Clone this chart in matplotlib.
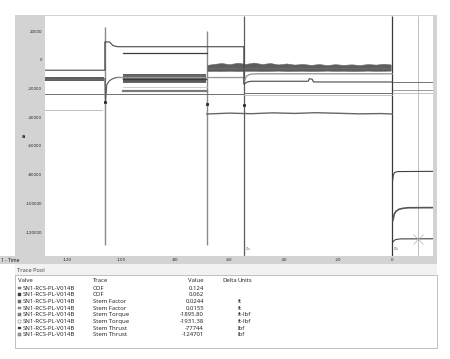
import matplotlib
matplotlib.use('Agg')
import matplotlib.pyplot as plt
from matplotlib.patches import Rectangle

W, H = 450, 359

# ---- chart data (time in s, values in lbf / ft-lbf) ----
cursor_t = [-106.0, -68.4, -54.7, 0.0, 9.6]
cursor_top = [22600, 19800, 30450, 30450, 30450]
cursor_bot = [-129200, -129200, -136700, -136700, -136700]

# upper dark trace
tr_a_t = [-128.1, -106.0, -106.0, -104.3, -103.0, -101.2, -54.7, -54.7, -53.5, -52.0, -31.0, -30.5, -29.5, -29.0, 0.0]
tr_a_v = [-7300, -7300, 12400, 12400, 9800, 9050, 9050, -17000, -15600, -15000, -15000, -13200, -13600, -15500, -15500]

# upper-middle step trace
tr_b_t = [-99.3, -68.4]
tr_b_v = [5000, 5000]

# noisy trace: band limits for the first two segments
noisy_t = [[-128.1, -106.2], [-99.3, -68.6]]
noisy_lo = [[-14600, -14600], [-16300, -16300]]
noisy_hi = [[-11700, -11700], [-9800, -9800]]
# last segment: jagged top edge and lower edge
band3_t = [-68.2, -66, -63, -60, -57, -54, -51, -48, -45, -42, -39, -36, -33, -30, -27, -24, -21, -18, -15, -12, -9, -6, -3, -0.5]
band3_hi = [-3600, -3000, -2300, -3100, -2100, -2900, -2000, -3000, -2300, -3300, -2600, -3400, -2900, -3600, -3000, -3700, -3100, -3600, -3200, -3700, -3000, -3400, -2800, -3300]
band3_lo = [-7900, -7800, -7900, -7700, -7900, -7800, -7700, -7900, -7800, -7600, -7900, -7800, -7700, -7900, -7800, -7600, -7800, -7700, -7900, -7800, -7600, -7800, -7700, -7600]

# recovery after first cursor
rec_t = [-106.0, -105.8, -105.3, -104.5, -103.5, -102.5, -101.2, -99.3]
rec_v = [-13100, -29600, -17500, -15000, -13600, -12800, -12300, -12400]

tr_c_t = [-101.2, -54.7, -54.7, -53.8, -52.5, -50.0, 0.0]
tr_c_v = [-12400, -12400, -16000, -11500, -10200, -9800, -9800]

tr_d_t = [-99.3, -68.4]
tr_d_v = [-18900, -18900]

tr_e_t = [-99.3, -68.4]
tr_e_v = [-21700, -21700]

tr_f_t = [-128.1, -54.7, -54.7, 0.0]
tr_f_v = [-24000, -24000, -23100, -23100]

tr_g_t = [-54.7, 0.0]
tr_g_v = [-24900, -24900]

tr_h_t = [-128.1, -107.0]
tr_h_v = [-35200, -35200]

tr_i_t = [-68.4, -60, -52, -44, -36, -28, -20, -12, -4, 0.0]
tr_i_v = [-37800, -37200, -37600, -37000, -37400, -36900, -37300, -37700, -37500, -37800]

spike_t = [-106.0, -68.4, -54.7]
spike_v = [-29600, -30800, -31700]

# after closing
post_lines_v = [-15500, -21200, -23500]
post_t = [0.3, 15.1]
thr1_t = [0.2, 0.5, 1.0, 2.0, 15.1]
thr1_v = [-84000, -80000, -78500, -77900, -77744]
thr2_t = [0.3, 0.8, 1.5, 2.5, 4.0, 6.0, 15.1]
thr2_v = [-111800, -107500, -105500, -104200, -103500, -103100, -103000]
thr3_t = [0.3, 0.8, 1.5, 3.0, 15.1]
thr3_v = [-127000, -125800, -125200, -124800, -124701]

yticks = [20000, 0, -20000, -40000, -60000, -80000, -100000, -120000]
xticks = [-120, -100, -80, -60, -40, -20, 0]

# ---- trace pool table ----
valves = ['SN1-RCS-PL-V014B'] * 8
traces = ['COF', 'COF', 'Stem Factor', 'Stem Factor', 'Stem Torque', 'Stem Torque', 'Stem Thrust', 'Stem Thrust']
values = ['0.124', '0.062', '0.0244', '0.0155', '-1895.80', '-1931.38', '-77744', '-124701']
units = ['', '', 'ft', 'ft', 'ft-lbf', 'ft-lbf', 'lbf', 'lbf']
swatch = ['#8a8a8a', '#333333', '#777777', '#9a9a9a', '#888888', 'none', '#333333', '#a0a0a0']


def fx(x):
    return x / W


def fy(y):
    return 1 - y / H


def box(x, y, w, h, **kw):
    # rectangle given in pixels from the top-left corner
    r = Rectangle((fx(x), fy(y + h)), fx(w), h / H, transform=fig.transFigure, **kw)
    fig.patches.append(r)


fig = plt.figure(figsize=(W / 100, H / 100), dpi=100)
fig.patch.set_facecolor('white')

# gray frame round the plot and the time bar
box(15, 15, 422, 249, facecolor='#d3d3d3', edgecolor='none', zorder=-3)
box(0, 256, 15, 8, facecolor='#d3d3d3', edgecolor='none', zorder=-3)
# trace pool header band
box(15, 264, 422, 11, facecolor='#f2f2f2', edgecolor='none', zorder=-3)
# table box
box(15, 275, 422, 73, facecolor='white', edgecolor='#b5b5b5', linewidth=0.6, zorder=-2)

ax = fig.add_axes([fx(45), fy(256), fx(388), 240 / H])
ax.set_facecolor('white')
for s in ax.spines.values():
    s.set_visible(False)
ax.set_xlim(-128.1, 15.1)
ax.set_ylim(-136700, 30450)
ax.set_yticks(yticks)
ax.set_yticklabels([str(v) for v in yticks])
ax.set_xticks(xticks)
ax.set_xticklabels([str(v) for v in xticks])
ax.tick_params(length=0, labelsize=2.9, labelcolor='#222222', pad=2)
ax.tick_params(axis='x', pad=1.6)

# cursors
for i, t in enumerate(cursor_t):
    col = ['#8a8a8a', '#8a8a8a', '#5c5c5c', '#3a3a3a', '#b5b5b5'][i]
    lw = [1.0, 1.0, 0.9, 0.9, 0.6][i]
    ax.vlines(t, cursor_bot[i], cursor_top[i], colors=col, linewidth=lw, zorder=2)

# noisy bands
for seg_t, lo, hi in zip(noisy_t, noisy_lo, noisy_hi):
    ax.fill_between(seg_t, lo, hi, color='#5e5e5e', linewidth=0, zorder=3)
ax.fill_between(band3_t, band3_lo, band3_hi, color='#5e5e5e', linewidth=0.4, edgecolor='#6a6a6a', zorder=3)
ax.plot(noisy_t[0], [-13100, -13100], color='#8a8a8a', lw=0.4, ls=(0, (1, 1)), zorder=3)
ax.plot(noisy_t[1], [-13100, -13100], color='#3a3a3a', lw=1.0, zorder=3)
ax.plot(noisy_t[1], [-15200, -15200], color='#8a8a8a', lw=0.4, ls=(0, (1, 1)), zorder=3)
ax.plot(noisy_t[1], [-10800, -10800], color='#8a8a8a', lw=0.4, ls=(0, (1, 1)), zorder=3)
ax.plot([band3_t[0], band3_t[-1]], [-5800, -5800], color='#8a8a8a', lw=0.4, ls=(0, (1, 1)), zorder=3)
ax.plot(rec_t, rec_v, color='#555555', lw=0.8, zorder=3)

ax.plot(tr_a_t, tr_a_v, color='#474747', lw=0.8, zorder=4)
ax.plot(tr_b_t, tr_b_v, color='#3a3a3a', lw=0.9, zorder=4)
ax.plot(tr_c_t, tr_c_v, color='#9a9a9a', lw=1.0, zorder=3)
ax.plot(tr_d_t, tr_d_v, color='#c4c4c4', lw=0.6, zorder=3)
ax.plot(tr_e_t, tr_e_v, color='#7a7a7a', lw=1.6, zorder=3)
ax.plot(tr_f_t, tr_f_v, color='#707070', lw=0.7, zorder=3)
ax.plot(tr_g_t, tr_g_v, color='#b8b8b8', lw=0.6, zorder=3)
ax.plot(tr_h_t, tr_h_v, color='#b5b5b5', lw=0.6, zorder=3)
ax.plot(tr_i_t, tr_i_v, color='#666666', lw=1.0, zorder=3)
ax.plot(spike_t, spike_v, 's', color='#333333', ms=1.2, zorder=5)

for v, c in zip(post_lines_v, ['#5e5e5e', '#8a8a8a', '#b8b8b8']):
    ax.plot(post_t, [v, v], color=c, lw=0.6, zorder=3)
ax.plot(thr1_t, thr1_v, color='#444444', lw=0.8, zorder=4)
ax.plot(thr2_t, thr2_v, color='#555555', lw=1.2, zorder=4)
ax.plot(thr3_t, thr3_v, color='#444444', lw=0.8, zorder=4)
ax.plot([cursor_t[4]], [thr3_v[-1]], 'x', color='#b0b0b0', ms=7, mew=0.5, zorder=5)

ax.text(cursor_t[2] + 0.8, -132500, 'C1a', fontsize=1.8, color='#555555')
ax.text(cursor_t[3] + 0.8, -132500, 'C1b', fontsize=1.8, color='#555555')

# labels in the frame
fig.text(fx(23), fy(136), 'a', fontsize=3.5, weight='bold', color='#222222', ha='center', va='center')
fig.text(fx(1), fy(260), '1 - Time', fontsize=3.6, weight='bold', color='#222222',
         family='Noto Sans', va='center')
fig.text(fx(17), fy(270), 'Trace Pool', fontsize=4.1, color='#444444', family='Noto Sans', va='center')

tfont = dict(fontsize=4.3, family='Noto Sans', color='#2a2a2a', va='center')
row_y = 280
fig.text(fx(18), fy(row_y), 'Valve', **tfont)
fig.text(fx(93), fy(row_y), 'Trace', **tfont)
fig.text(fx(204), fy(row_y), 'Value', ha='right', **tfont)
fig.text(fx(222), fy(row_y), 'Delta', **tfont)
fig.text(fx(238), fy(row_y), 'Units', **tfont)

for i in range(len(valves)):
    y = 288 + i * 6.67
    wt = 'bold' if i == len(valves) - 1 else 'normal'
    box(18, y - 1.4, 2.8, 2.8, facecolor=swatch[i], edgecolor='#555555', linewidth=0.3, zorder=2)
    fig.text(fx(22.5), fy(y), valves[i], weight=wt, **tfont)
    fig.text(fx(93), fy(y), traces[i], weight=wt, **tfont)
    fig.text(fx(204), fy(y), values[i], weight=wt, ha='right', **tfont)
    fig.text(fx(238), fy(y), units[i], weight=wt, **tfont)

fig.savefig('out.png', dpi=100)
